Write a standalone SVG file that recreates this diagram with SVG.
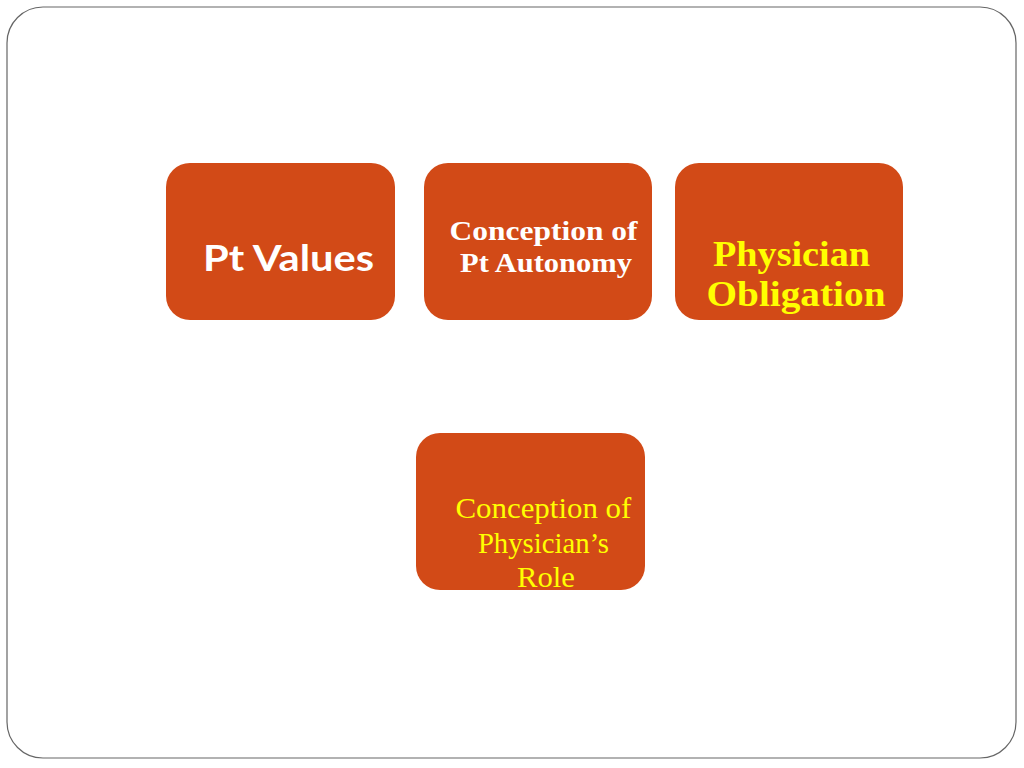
<svg xmlns="http://www.w3.org/2000/svg" width="1024" height="768" viewBox="0 0 1024 768">
<style>
.box{fill:#D24A17}
.sans{font-family:"Lato","Open Sans","Liberation Sans",sans-serif;font-weight:bold}
.serif{font-family:"Liberation Serif","DejaVu Serif",serif}
</style>
<rect x="7" y="7" width="1009" height="751" rx="36" ry="36" fill="#FFFFFF" stroke="#666666" stroke-width="1.2"/>
<g id="connectors"></g>
<g id="node-pt-values">
<rect class="box" x="166" y="163" width="229" height="157" rx="24" ry="24"/>
<text class="sans" x="288.5" y="271" font-size="37" fill="#FFFFFF" text-anchor="middle" textLength="171" lengthAdjust="spacingAndGlyphs">Pt Values</text>
</g>
<g id="node-autonomy">
<rect class="box" x="424" y="163" width="228" height="157" rx="24" ry="24"/>
<text class="serif" font-weight="bold" font-size="28" fill="#FFFFFF" text-anchor="middle">
<tspan x="547" y="240" textLength="188" lengthAdjust="spacingAndGlyphs">Conception of</tspan>
<tspan x="546" y="272" textLength="172" lengthAdjust="spacingAndGlyphs">Pt Autonomy</tspan>
</text>
</g>
<g id="node-obligation">
<rect class="box" x="675" y="163" width="228" height="157" rx="24" ry="24"/>
<text class="serif" font-weight="bold" font-size="36" fill="#FFFF00" text-anchor="middle">
<tspan x="796" y="266" textLength="157" lengthAdjust="spacingAndGlyphs">Physician</tspan>
<tspan x="796" y="306" textLength="179" lengthAdjust="spacingAndGlyphs">Obligation</tspan>
</text>
</g>
<g id="node-role">
<rect class="box" x="416" y="433" width="229" height="157" rx="24" ry="24"/>
<text class="serif" font-size="29" fill="#FFFF00" text-anchor="middle">
<tspan x="547" y="518" textLength="176" lengthAdjust="spacingAndGlyphs">Conception of</tspan>
<tspan x="547" y="553" textLength="131" lengthAdjust="spacingAndGlyphs">Physician’s</tspan>
<tspan x="546" y="587" textLength="58" lengthAdjust="spacingAndGlyphs">Role</tspan>
</text>
</g>
</svg>
